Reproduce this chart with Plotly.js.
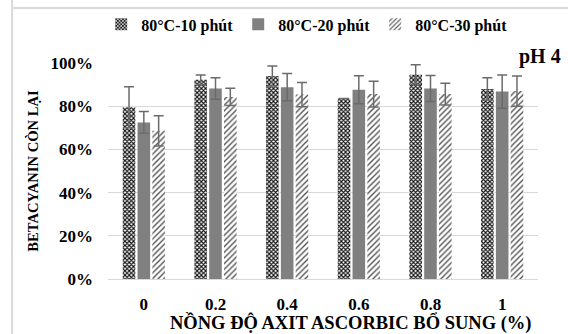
<!DOCTYPE html>
<html><head><meta charset="utf-8">
<script src="https://cdn.plot.ly/plotly-3.0.1.min.js"></script>
<style>html,body{margin:0;padding:0;background:#fff;}#c{width:568px;height:334px;}</style>
</head><body><div id="c"></div>
<script>
var categories = ['0', '0.2', '0.4', '0.6', '0.8', '1'];
var seriesNames = ['80°C-10 phút', '80°C-20 phút', '80°C-30 phút'];
var v10 = [79.5, 92.2, 94.0, 83.6, 94.6, 88.0];
var e10 = [9.5, 2.3, 4.6, 0, 4.6, 5.2];
var v20 = [72.5, 88.2, 88.8, 87.6, 88.2, 86.8];
var e20 = [5.0, 5.0, 6.3, 6.5, 6.0, 7.7];
var v30 = [68.6, 84.3, 85.4, 85.6, 85.6, 87.0];
var e30 = [7.0, 4.0, 5.6, 6.0, 5.0, 7.0];
var xTitle = 'NỒNG ĐỘ AXIT ASCORBIC BỔ SUNG (%)';
var yTitle = 'BETACYANIN CÒN LẠI';

var font = 'Liberation Serif';
var errStyle = {type: 'data', visible: true, thickness: 1.5, width: 5, color: '#6b6b6b'};
function err(a){ var o = Object.assign({}, errStyle); o.array = a; return o; }

var traces = [
  {type: 'bar', name: seriesNames[0], x: categories, y: v10, error_y: err(e10),
   marker: {color: '#ffffff', line: {width: 0},
            pattern: {shape: 'x', fgcolor: '#111111', bgcolor: '#ffffff', size: 3, solidity: 0.6}}},
  {type: 'bar', name: seriesNames[1], x: categories, y: v20, error_y: err(e20),
   marker: {color: '#808080', line: {width: 0}}},
  {type: 'bar', name: seriesNames[2], x: categories, y: v30, error_y: err(e30),
   marker: {color: '#ffffff', line: {width: 0},
            pattern: {shape: '/', fgcolor: '#555555', bgcolor: '#ffffff', size: 4, solidity: 0.35}}}
];

var layout = {
  width: 568, height: 334,
  margin: {l: 108, r: 30, t: 63, b: 55, autoexpand: false},
  paper_bgcolor: '#ffffff', plot_bgcolor: '#ffffff',
  font: {family: font, color: '#000', size: 14},
  barmode: 'group', bargap: 0.38, bargroupgap: 0.15,
  showlegend: true,
  legend: {orientation: 'h', xref: 'container', yref: 'container', x: 0.54, xanchor: 'center', y: 0.927, yanchor: 'middle',
           font: {family: font, size: 16, color: '#000', weight: 'bold'},
           itemwidth: 30, tracegroupgap: 0, bgcolor: 'rgba(0,0,0,0)'},
  xaxis: {type: 'category', showgrid: false, showline: true, linecolor: '#d9d9d9', linewidth: 1,
          ticks: '', ticklen: 0, ticklabelstandoff: 10, tickfont: {family: font, size: 17, weight: 'bold'}},
  yaxis: {range: [0, 100], dtick: 20, ticksuffix: '%', showgrid: true, gridcolor: '#d9d9d9', gridwidth: 1,
          zeroline: false, showline: false, ticks: '', ticklabelstandoff: 14, tickfont: {family: font, size: 17, weight: 'bold'},
          title: {text: yTitle, font: {family: font, size: 14.6, weight: 'bold'}, standoff: 8}},
  annotations: [
    {text: 'pH 4', xref: 'paper', yref: 'paper', x: 1.057, y: 1.032, xanchor: 'right', yanchor: 'middle',
     showarrow: false, font: {family: font, size: 20, weight: 'bold', color: '#000'}},
    {text: xTitle, xref: 'paper', yref: 'paper', x: 0.565, y: 0, xanchor: 'center', yanchor: 'middle', yshift: -44,
     showarrow: false, font: {family: font, size: 18.5, weight: 'bold', color: '#000'}}
  ],
  shapes: [
    {type: 'line', xref: 'paper', yref: 'paper', x0: -0.223, x1: -0.223, y0: -0.3, y1: 1.3, line: {color: '#d9d9d9', width: 2}},
    {type: 'line', xref: 'paper', yref: 'paper', x0: -0.223, x1: 1.08, y0: 1.255, y1: 1.255, line: {color: '#d9d9d9', width: 2}}
  ]
};
Plotly.newPlot('c', traces, layout, {displayModeBar: false, staticPlot: true});
</script></body></html>
